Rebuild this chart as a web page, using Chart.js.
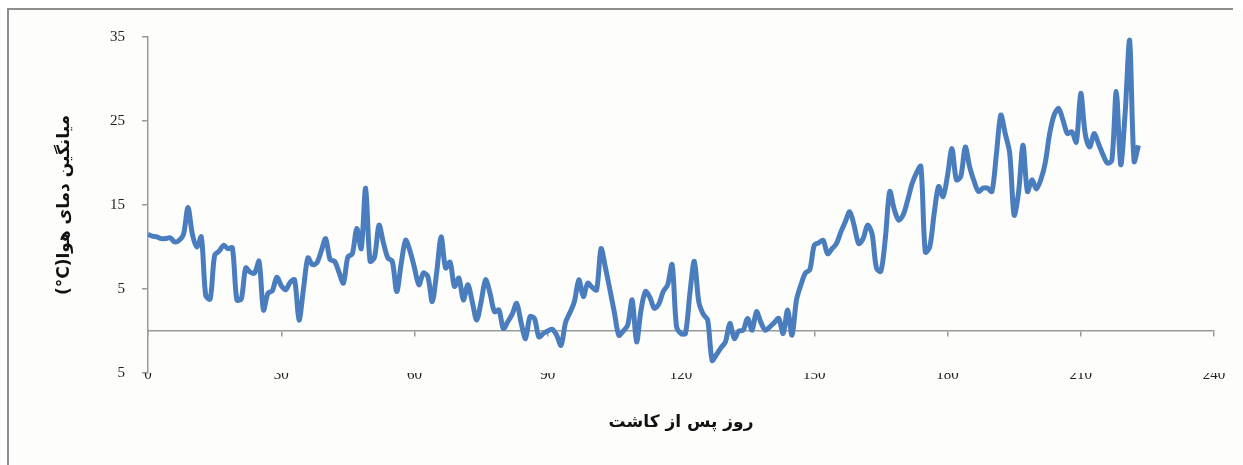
<!DOCTYPE html>
<html lang="fa">
<head>
<meta charset="utf-8">
<title>میانگین دمای هوا</title>
<script src="https://cdn.jsdelivr.net/npm/chart.js@4.4.1/dist/chart.umd.min.js"></script>
<style>
  html, body { margin: 0; padding: 0; background: #ffffff; }
  #wrap { position: relative; width: 1243px; height: 465px; }
</style>
</head>
<body>
<div id="wrap"><canvas id="chart"></canvas></div>
<script>
// Mean daily air temperature (°C) by day after planting, starting at day 0
const temps = [
  11.5, 11.3, 11.2, 11.0, 11.0, 11.1, 10.6, 10.8, 11.5, 14.7,
  11.5, 10.0, 11.2, 4.2, 3.8, 9.0, 9.5, 10.2, 9.8, 9.9,
  3.7, 3.8, 7.5, 7.0, 6.9, 8.3, 2.5, 4.5, 4.8, 6.4,
  5.4, 4.9, 5.8, 6.1, 1.3, 5.0, 8.7, 7.9, 8.1, 9.5,
  11.0, 8.5, 8.3, 7.0, 5.7, 8.8, 9.2, 12.2, 9.8, 17.0,
  8.3, 8.8, 12.6, 10.5, 8.7, 8.3, 4.7, 8.0, 10.8, 9.5,
  7.5, 5.5, 6.9, 6.5, 3.5, 7.0, 11.2, 7.5, 8.2, 5.3,
  6.3, 3.7, 5.5, 3.5, 1.3, 3.5, 6.1, 4.5, 2.3, 2.5,
  0.3, 1.1, 2.0, 3.3, 1.0, -0.9, 1.7, 1.5, -0.7, -0.3,
  0.0, 0.2, -0.5, -1.7, 1.0, 2.2, 3.5, 6.1, 4.1, 5.7,
  5.2, 4.9, 9.8, 7.5, 4.9, 2.2, -0.5, 0.0, 0.7, 3.7,
  -1.3, 2.5, 4.7, 4.0, 2.7, 3.2, 4.7, 5.5, 7.9, 0.5,
  -0.3, -0.3, 4.5, 8.3, 3.5, 2.0, 1.3, -3.5, -2.8, -2.0,
  -1.3, 0.9, -0.9, 0.0, 0.1, 1.5, 0.1, 2.3, 1.0, 0.1,
  0.5, 1.0, 1.5, -0.3, 2.5, -0.5, 3.7, 5.5, 6.9, 7.3,
  10.2, 10.5, 10.8, 9.2, 9.8, 10.4, 11.8, 13.0, 14.2, 12.5,
  10.4, 11.0, 12.6, 11.6, 7.5, 7.1, 11.0, 16.6, 14.5, 13.2,
  13.8, 15.5, 17.5, 18.8, 19.6, 9.4, 10.0, 14.0, 17.2, 16.0,
  18.5, 21.7, 18.0, 18.4, 21.9, 19.5, 17.8, 16.6, 17.0, 17.0,
  16.6, 21.0, 25.7, 23.5, 21.2, 13.8, 16.5, 22.1, 16.6, 18.0,
  16.9, 18.0, 20.0, 23.5, 25.7, 26.5, 25.1, 23.5, 23.7, 22.5,
  28.3, 23.5, 21.9, 23.5, 22.3, 21.0, 20.0, 20.3, 28.5, 19.8,
  26.0, 34.6, 20.2, 22.1
];

// Day numbers after planting, one per reading
const days = temps.map((_, i) => i);

// Axis ticks
const xTickStep = 30;
const xMin = 0;
const xMax = 240;
const yTickValues = [-5, 5, 15, 25, 35];
const yTickLabels = ['5', '5', '15', '25', '35'];

const xTitle = 'روز پس از کاشت';
// RTL embedding keeps the Persian words first; LRM keeps "°C" in reading order
const yTitle = '\u202B' + 'میانگین دمای هوا(\u200E°C)' + '\u202C';

const axisColor = '#9a9a9a';
const lineColor = '#4a7dbe';
const tickFont = { family: "'Liberation Serif', 'DejaVu Serif', serif", size: 15 };
const titleFont = { family: "'DejaVu Sans', sans-serif", size: 17, weight: 'bold' };

// Page frame: light panel with a grey left/top rule
const framePlugin = {
  id: 'frame',
  beforeDraw(chart) {
    const { ctx, width, height } = chart;
    ctx.save();
    ctx.fillStyle = '#ffffff';
    ctx.fillRect(0, 0, width, height);
    ctx.fillStyle = '#fdfdfb';
    ctx.fillRect(8, 10, width - 8, height - 10);
    ctx.strokeStyle = '#8e8e8e';
    ctx.lineWidth = 2;
    ctx.beginPath();
    ctx.moveTo(8, height);
    ctx.lineTo(8, 9);
    ctx.lineTo(width - 10, 9);
    ctx.stroke();
    ctx.restore();
  }
};

new Chart(document.getElementById('chart'), {
  type: 'line',
  data: {
    datasets: [{
      data: days.map((d, i) => ({ x: d, y: temps[i] })),
      borderColor: lineColor,
      borderWidth: 5,
      pointRadius: 0,
      tension: 0.3,
      fill: false,
      xAxisID: 'x',
      yAxisID: 'y'
    }]
  },
  options: {
    responsive: true,
    maintainAspectRatio: false,
    animation: false,
    events: [],
    layout: { padding: { top: 37, right: 29, left: 0, bottom: 0 } },
    plugins: { legend: { display: false }, tooltip: { enabled: false } },
    scales: {
      // Axis line drawn through y = 0, tick marks pointing down
      x: {
        type: 'linear',
        position: { y: 0 },
        min: xMin,
        max: xMax,
        ticks: { stepSize: xTickStep, display: false },
        grid: { drawOnChartArea: false, drawTicks: true, tickLength: 5, color: axisColor, lineWidth: 1.5 },
        border: { color: axisColor, width: 1.5 }
      },
      // Day labels along the bottom
      x2: {
        type: 'linear',
        position: 'bottom',
        min: xMin,
        max: xMax,
        afterFit(scale) { scale.height = 92; },
        ticks: { stepSize: xTickStep, padding: -7, font: tickFont, color: '#222', maxRotation: 0 },
        grid: { display: false, drawTicks: false },
        border: { display: false },
        title: { display: true, text: xTitle, font: titleFont, color: '#111', padding: { top: 0, bottom: 32 } }
      },
      y: {
        type: 'linear',
        position: 'left',
        min: -5,
        max: 35,
        afterFit(scale) { scale.width = 148; },
        ticks: {
          stepSize: 10,
          padding: 17,
          font: tickFont,
          color: '#222',
          callback: (v) => {
            const k = yTickValues.indexOf(v);
            return k >= 0 ? yTickLabels[k] : '';
          }
        },
        grid: { drawOnChartArea: false, drawTicks: true, tickLength: 6, color: axisColor, lineWidth: 1.5 },
        border: { color: axisColor, width: 1.5 },
        title: { display: true, text: yTitle, font: titleFont, color: '#111', padding: { top: 54, bottom: 0 } }
      }
    }
  },
  plugins: [framePlugin]
});
</script>
</body>
</html>
